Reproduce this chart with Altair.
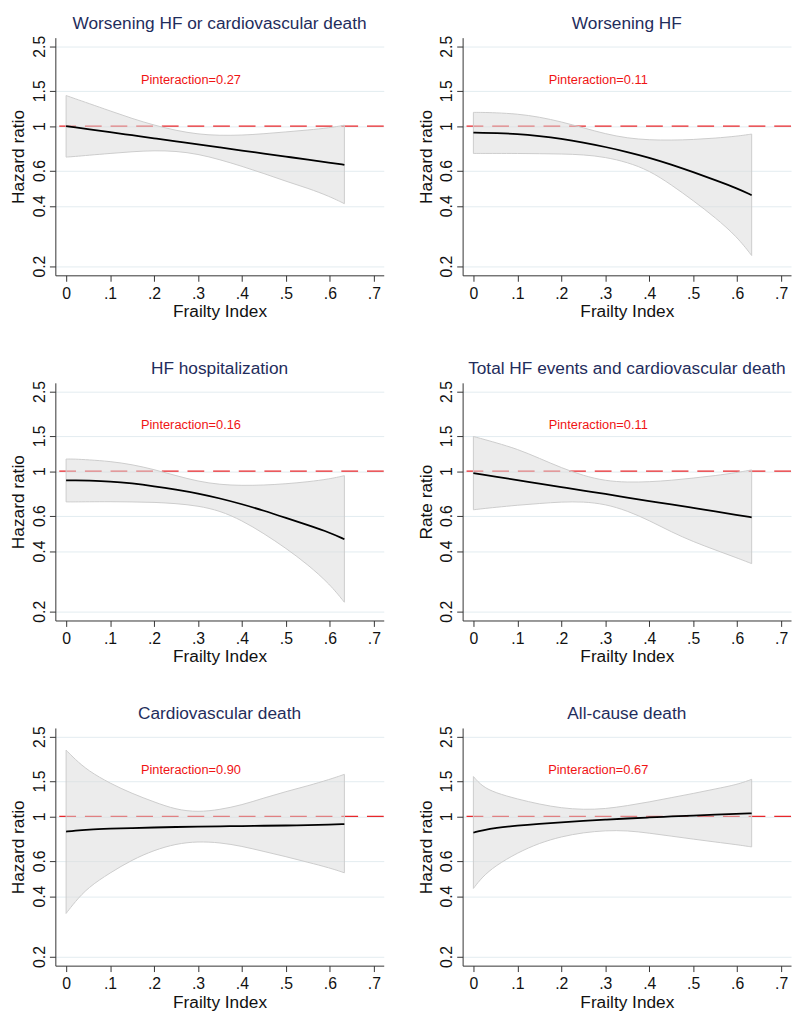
import altair as alt
import pandas as pd

# Frailty index grid at which the curves were read
X = [0, 0.02, 0.05, 0.1, 0.15, 0.2, 0.25, 0.3, 0.35, 0.4, 0.45, 0.5, 0.55, 0.6, 0.633]

titles = [
    "Worsening HF or cardiovascular death",
    "Worsening HF",
    "HF hospitalization",
    "Total HF events and cardiovascular death",
    "Cardiovascular death",
    "All-cause death",
]
ytitles = ["Hazard ratio", "Hazard ratio", "Hazard ratio", "Rate ratio", "Hazard ratio", "Hazard ratio"]
ptexts = [
    "Pinteraction=0.27",
    "Pinteraction=0.11",
    "Pinteraction=0.16",
    "Pinteraction=0.11",
    "Pinteraction=0.90",
    "Pinteraction=0.67",
]

est_1 = [1.00, 0.986, 0.966, 0.932, 0.900, 0.869, 0.839, 0.810, 0.782, 0.755, 0.729, 0.704, 0.680, 0.656, 0.641]
hi_1 = [1.42, 1.37, 1.30, 1.19, 1.09, 1.01, 0.95, 0.91, 0.897, 0.90, 0.915, 0.935, 0.955, 0.98, 1.01]
lo_1 = [0.70, 0.705, 0.715, 0.73, 0.745, 0.755, 0.75, 0.725, 0.68, 0.63, 0.58, 0.53, 0.49, 0.445, 0.41]

est_2 = [0.928, 0.926, 0.922, 0.914, 0.892, 0.864, 0.828, 0.787, 0.743, 0.696, 0.643, 0.589, 0.537, 0.489, 0.452]
hi_2 = [1.17, 1.17, 1.165, 1.15, 1.11, 1.05, 0.98, 0.914, 0.87, 0.852, 0.85, 0.856, 0.87, 0.89, 0.912]
lo_2 = [0.73, 0.73, 0.73, 0.73, 0.728, 0.726, 0.72, 0.70, 0.66, 0.60, 0.51, 0.425, 0.35, 0.28, 0.226]

est_3 = [0.90, 0.90, 0.897, 0.89, 0.87, 0.842, 0.81, 0.775, 0.732, 0.685, 0.636, 0.585, 0.538, 0.494, 0.458]
hi_3 = [1.15, 1.15, 1.14, 1.12, 1.08, 1.02, 0.95, 0.89, 0.857, 0.848, 0.852, 0.865, 0.885, 0.915, 0.95]
lo_3 = [0.703, 0.703, 0.704, 0.705, 0.703, 0.70, 0.69, 0.672, 0.635, 0.568, 0.489, 0.413, 0.342, 0.273, 0.222]

est_4 = [0.978, 0.962, 0.94, 0.903, 0.868, 0.834, 0.801, 0.77, 0.739, 0.71, 0.683, 0.656, 0.63, 0.605, 0.589]
hi_4 = [1.49, 1.45, 1.39, 1.29, 1.16, 1.04, 0.95, 0.895, 0.88, 0.885, 0.90, 0.924, 0.95, 0.985, 1.015]
lo_4 = [0.642, 0.65, 0.66, 0.677, 0.69, 0.703, 0.705, 0.685, 0.635, 0.568, 0.498, 0.445, 0.405, 0.369, 0.346]

est_5 = [0.839, 0.85, 0.86, 0.868, 0.875, 0.88, 0.885, 0.89, 0.892, 0.895, 0.898, 0.90, 0.905, 0.91, 0.915]
hi_5 = [2.14, 1.93, 1.69, 1.46, 1.30, 1.18, 1.08, 1.05, 1.08, 1.14, 1.235, 1.33, 1.42, 1.53, 1.62]
lo_5 = [0.328, 0.374, 0.442, 0.523, 0.607, 0.678, 0.73, 0.75, 0.74, 0.71, 0.668, 0.63, 0.59, 0.553, 0.523]

est_6 = [0.83, 0.85, 0.877, 0.90, 0.918, 0.934, 0.949, 0.963, 0.976, 0.988, 0.999, 1.01, 1.02, 1.03, 1.035]
hi_6 = [1.58, 1.41, 1.31, 1.22, 1.15, 1.10, 1.08, 1.09, 1.13, 1.18, 1.24, 1.30, 1.37, 1.44, 1.53]
lo_6 = [0.437, 0.498, 0.567, 0.658, 0.736, 0.793, 0.83, 0.85, 0.85, 0.825, 0.797, 0.77, 0.745, 0.722, 0.704]

ests = [est_1, est_2, est_3, est_4, est_5, est_6]
his = [hi_1, hi_2, hi_3, hi_4, hi_5, hi_6]
los = [lo_1, lo_2, lo_3, lo_4, lo_5, lo_6]

x_ticks = [0, 0.1, 0.2, 0.3, 0.4, 0.5, 0.6, 0.7]
y_ticks = [0.2, 0.4, 0.6, 1, 1.5, 2.5]
p_pos = (0.284, 1.70)
ref_value = [1]

FONT = "Liberation Sans"
W, H = 333, 241

xscale = alt.Scale(domain=[-0.0245, 0.7225], nice=False, zero=False)
yscale = alt.Scale(type="log", domain=[0.18, 2.76], nice=False)


def panel(i):
    df = pd.DataFrame({"x": X, "est": ests[i], "lo": los[i], "hi": his[i]})
    xenc = alt.X(
        "x:Q",
        scale=xscale,
        axis=alt.Axis(
            title="Frailty Index",
            values=x_ticks,
            labelExpr="datum.value == 0 ? '0' : replace(format(datum.value, '.1f'), '0.', '.')",
            grid=False,
            tickSize=6,
            labelPadding=4,
            titlePadding=2,
            labelFontSize=16,
            titleFontSize=17.5,
        ),
    )
    yaxis = alt.Axis(
        title=ytitles[i],
        values=y_ticks,
        format="~g",
        grid=True,
        gridColor="#e3ecf0",
        labelAngle=270,
        labelAlign="center",
        labelBaseline="bottom",
        tickSize=6,
        labelPadding=2,
        titlePadding=4,
        labelFontSize=16,
        titleFontSize=17.5,
    )
    band = alt.Chart(df).mark_area(
        fill="#d9d9d9", fillOpacity=0.5, stroke="#cccccc", strokeWidth=1, interpolate="basis"
    ).encode(x=xenc, y=alt.Y("lo:Q", scale=yscale, axis=yaxis), y2="hi:Q")
    ref = alt.Chart(pd.DataFrame({"r": ref_value})).mark_rule(
        color="#e8272b", strokeDash=[17, 9], strokeWidth=1.2
    ).encode(y=alt.Y("r:Q", scale=yscale))
    line = alt.Chart(df).mark_line(color="black", strokeWidth=1.8, interpolate="basis").encode(
        x="x:Q", y="est:Q"
    )
    txt = alt.Chart(pd.DataFrame({"x": [p_pos[0]], "y": [p_pos[1]], "t": [ptexts[i]]})).mark_text(
        color="#f01414", fontSize=13, font=FONT
    ).encode(x="x:Q", y=alt.Y("y:Q", scale=yscale), text="t:N")
    return alt.layer(ref, band, line, txt).properties(
        width=W,
        height=H,
        title=alt.Title(
            titles[i],
            fontSize=17.5,
            fontWeight="normal",
            color="#1f2d5c",
            font=FONT,
            anchor="middle",
            frame="group",
            baseline="alphabetic",
            offset=-11,
        ),
    )


rows = [alt.hconcat(panel(2 * r), panel(2 * r + 1), spacing=33) for r in range(3)]
chart = alt.vconcat(*rows, spacing=40).properties(
    padding={"left": 2, "top": 0, "right": 0, "bottom": 0}
).configure(font=FONT).configure_view(stroke=None).configure_axis(
    domainColor="#333333",
    tickColor="#333333",
    labelColor="#111111",
    titleColor="#111111",
    titleFontWeight="normal",
    labelFont=FONT,
    titleFont=FONT,
)

chart.save("out.html", embed_options={"renderer": "svg", "actions": False})
